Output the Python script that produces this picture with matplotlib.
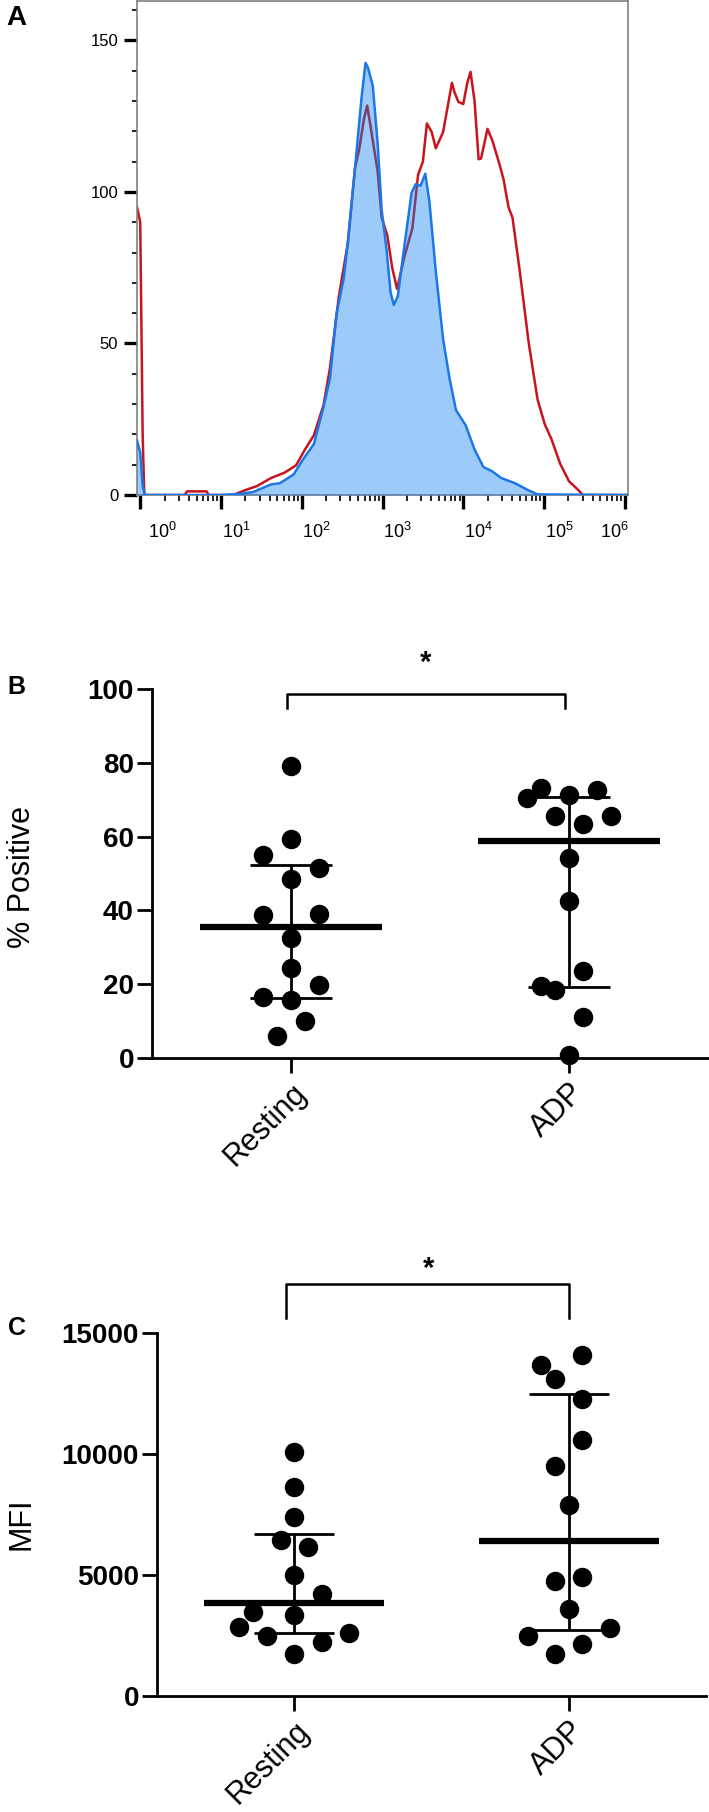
import numpy as np
import matplotlib
matplotlib.use('Agg')
import matplotlib.pyplot as plt
from matplotlib.ticker import FixedLocator, MultipleLocator, LogLocator, NullFormatter

plt.rcParams['font.family'] = ['Liberation Sans', 'DejaVu Sans']
plt.rcParams['mathtext.fontset'] = 'custom'
plt.rcParams['mathtext.rm'] = 'Liberation Sans'
plt.rcParams['mathtext.it'] = 'Liberation Sans:italic'
plt.rcParams['mathtext.bf'] = 'Liberation Sans:bold'

# ---------------- Panel A data (histogram, x in log10 decades) ----------------
red_logx = [-0.04, 0.0, 0.03, 0.05, 0.55, 0.58, 0.62, 0.82, 0.85, 1.15, 1.29, 1.45,
            1.62, 1.79, 1.93, 2.04, 2.15, 2.27, 2.35, 2.46, 2.57, 2.66, 2.71, 2.77,
            2.81, 2.85, 2.94, 2.99, 3.06, 3.12, 3.18, 3.27, 3.37, 3.44, 3.50, 3.55,
            3.61, 3.66, 3.75, 3.86, 3.89, 3.94, 4.00, 4.05, 4.09, 4.14, 4.19, 4.22,
            4.30, 4.36, 4.45, 4.50, 4.56, 4.61, 4.70, 4.81, 4.92, 5.01, 5.09, 5.20,
            5.31, 5.43, 5.48, 6.04]
red_count = [95, 90, 20, 0, 0, 1.2, 1.2, 1.2, 0, 0, 1.5, 3,
             5.6, 7.4, 9.8, 15, 19.7, 29.7, 42, 65.6, 83, 108, 113.8, 124,
             128.5, 122, 106.7, 91.5, 85.6, 75, 68, 78.5, 88, 105.6, 110, 122.6,
             119.7, 114.4, 119.7, 136, 133, 129.7, 129, 136, 139.6, 130, 110.8, 111,
             120.8, 117, 109, 104, 95, 91.5, 73.8, 50.3, 31.5, 23.3, 18.6, 10.3,
             4.5, 1.5, 0, 0]

blue_logx = [-0.04, 0.0, 0.03, 0.06, 1.0, 1.23, 1.40, 1.62, 1.73, 1.90, 2.01, 2.15,
             2.27, 2.35, 2.43, 2.52, 2.57, 2.66, 2.74, 2.79, 2.82, 2.88, 2.94, 2.99,
             3.05, 3.10, 3.14, 3.19, 3.27, 3.36, 3.41, 3.47, 3.53, 3.58, 3.66, 3.75,
             3.83, 3.91, 4.03, 4.14, 4.25, 4.36, 4.47, 4.64, 4.81, 4.92, 6.04]
blue_count = [18, 14, 3, 0, 0, 0.35, 1, 3.5, 3.9, 6.8, 11.5, 16.8,
              29, 38.5, 59.7, 71.5, 83, 108, 131, 142.6, 141, 135, 116, 94,
              81, 66.8, 62.7, 65.6, 82, 99.7, 102.6, 102, 106, 97, 73.8, 51.5,
              38.5, 28, 23, 15, 9.2, 7.8, 5.6, 3.9, 1.5, 0.2, 0]

a_yticks = [0, 50, 100, 150]
a_decades = [0, 1, 2, 3, 4, 5, 6]

# ---------------- Panels B / C data ----------------
categories = ['Resting', 'ADP']

pos_resting = [79.1, 59.4, 55.0, 51.5, 48.6, 38.7, 39.1, 32.4, 24.3, 19.8, 16.5, 15.6, 9.9, 6.0]
pos_adp = [73.1, 72.7, 70.4, 71.2, 65.5, 65.5, 63.4, 54.1, 42.5, 23.6, 19.5, 18.3, 11.2, 0.9]

mfi_resting = [10076, 8621, 7408, 6438, 6158, 4982, 4199, 3489, 3340, 2836, 2500, 2612, 2239, 1717]
mfi_adp = [14088, 13659, 13099, 12259, 10580, 9498, 7912, 4926, 4758, 3583, 2799, 2500, 2146, 1754]

# scatter columns (in dot half-widths) as drawn by the plotting software
col_pos_resting = [0, 0, -2, 2, 0, -2, 2, 0, 0, 2, -2, 0, 1, -1]
col_pos_adp = [-2, 2, -3, 0, -1, 3, 1, 0, 0, 1, -2, -1, 1, 0]
col_mfi_resting = [0, 0, 0, -1, 1, 0, 2, -3, 0, -4, -2, 4, 2, 0]
col_mfi_adp = [1, -2, -1, 1, 1, -1, 0, 1, -1, 0, 3, -3, 1, -1]

pos_yticks = [0, 20, 40, 60, 80, 100]
mfi_yticks = [0, 5000, 10000, 15000]

W, H = 709, 1812
fig = plt.figure(figsize=(W / 100, H / 100), dpi=100)


def rect(l, t, r, b):
    return [l / W, 1 - b / H, (r - l) / W, (b - t) / H]


RED = '#c8141e'
BLUE = '#1c78e6'

# ---------------- Panel A ----------------
axA = fig.add_axes(rect(137, 1, 628, 495))
axA.set_xscale('log')
axA.set_xlim(10 ** -0.04, 10 ** 6.04)
axA.set_ylim(0, 163)
rx = 10 ** np.array(red_logx)
bx = 10 ** np.array(blue_logx)
axA.plot(rx, red_count, color=RED, lw=1.8, zorder=2, solid_joinstyle='round')
axA.fill_between(bx, blue_count, 0, color=(10 / 255, 125 / 255, 240 / 255), alpha=0.4, lw=0, zorder=3)
axA.plot(bx, blue_count, color=BLUE, lw=1.8, zorder=4, solid_joinstyle='round')
for s in axA.spines.values():
    s.set_color('#808080')
    s.set_linewidth(1.2)
axA.yaxis.set_major_locator(FixedLocator(a_yticks))
axA.yaxis.set_minor_locator(MultipleLocator(10))
axA.yaxis.set_minor_formatter(NullFormatter())
axA.tick_params(axis='y', which='major', length=9.4, width=2.4, color='black', labelsize=12, pad=4)
axA.tick_params(axis='y', which='minor', length=3.6, width=1.2, color='black')
axA.xaxis.set_major_locator(LogLocator(base=10, numticks=20))
axA.xaxis.set_minor_locator(LogLocator(base=10, subs=np.arange(2, 10), numticks=100))
axA.xaxis.set_minor_formatter(NullFormatter())
axA.tick_params(axis='x', which='major', length=10, width=2.4, color='black', labelbottom=False)
axA.tick_params(axis='x', which='minor', length=4.5, width=1.2, color='black')
for k in a_decades:
    if k == 0:
        dx, ha = 5.5, 'left'
    elif k == a_decades[-1]:
        dx, ha = 2.5, 'right'
    else:
        dx, ha = 0.5, 'left'
    axA.annotate(r'$\mathregular{10^{%d}}$' % k, xy=(10.0 ** k, 0), xycoords=('data', 'axes fraction'),
                 xytext=(dx, -31), textcoords='offset points', ha=ha, va='baseline', fontsize=13)


# ---------------- Panels B / C ----------------
def dotplot(ax, groups, cols, yticks, ylim):
    dx = 0.05
    for i, (vals, cc) in enumerate(zip(groups, cols)):
        v = np.array(vals, dtype=float)
        x = i + np.array(cc) * dx
        ax.plot(x, v, 'o', ms=13, color='black', mec='black', clip_on=False, zorder=6)
        q1, med, q3 = np.percentile(v, [25, 50, 75], method='weibull')
        ax.hlines(med, i - 0.328, i + 0.328, color='black', lw=4.5, zorder=5)
        ax.vlines(i, q1, q3, color='black', lw=2, zorder=5)
        ax.hlines([q1, q3], i - 0.146, i + 0.146, color='black', lw=2, zorder=5)
    ax.set_xlim(-0.5, 1.5)
    ax.set_ylim(*ylim)
    ax.set_xticks(range(len(categories)))
    ax.set_xticklabels(categories, rotation=45, ha='right', va='top', rotation_mode='anchor', fontsize=22)
    ax.set_yticks(yticks)
    ax.set_yticklabels([str(t) for t in yticks], fontsize=20, fontweight='bold')
    for s in ['top', 'right']:
        ax.spines[s].set_visible(False)
    for s in ['left', 'bottom']:
        ax.spines[s].set_linewidth(2)
    ax.tick_params(axis='both', length=11, width=2, color='black')
    ax.tick_params(axis='y', pad=2)
    ax.tick_params(axis='x', pad=3)


axB = fig.add_axes(rect(152, 689, 708, 1058))
dotplot(axB, [pos_resting, pos_adp], [col_pos_resting, col_pos_adp], pos_yticks, (0, 100))
axB.plot([-0.014, -0.014, 0.986, 0.986], [94.8, 98.6, 98.6, 94.8], color='black', lw=1.8, clip_on=False)
axB.text(0.484, 104.9, '*', ha='center', va='baseline', fontsize=21, fontweight='bold', clip_on=False)

axC = fig.add_axes(rect(157, 1333, 706, 1696))
dotplot(axC, [mfi_resting, mfi_adp], [col_mfi_resting, col_mfi_adp], mfi_yticks, (0, 15000))
axC.plot([-0.03, -0.03, 1.0, 1.0], [15620, 17025, 17025, 15620], color='black', lw=1.8, clip_on=False)
axC.text(0.489, 17314, '*', ha='center', va='baseline', fontsize=21, fontweight='bold', clip_on=False)

# axis titles and panel letters
fig.text(22 / W, 1 - 877 / H, '% Positive', rotation=90, ha='center', va='center', fontsize=22)
fig.text(21 / W, 1 - 1524 / H, 'MFI', rotation=90, ha='center', va='center', fontsize=22)
fig.text(16 / W, 1 - 18 / H, 'A', ha='center', va='center', fontsize=20, fontweight='bold')
fig.text(16 / W, 1 - 687 / H, 'B', ha='center', va='center', fontsize=18, fontweight='bold')
fig.text(17 / W, 1 - 1328 / H, 'C', ha='center', va='center', fontsize=18, fontweight='bold')

fig.savefig('out.png', dpi=100, facecolor='white')
